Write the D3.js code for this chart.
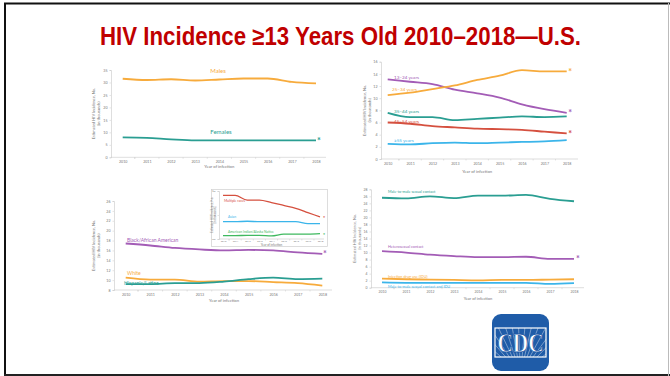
<!DOCTYPE html>
<html>
<head>
<meta charset="utf-8">
<script src="https://cdn.jsdelivr.net/npm/d3@7"></script>
<style>
  body { margin: 0; background: #fff; }
  svg { display: block; }
  text { font-family: Lato, "Open Sans", sans-serif; }
</style>
</head>
<body>
<div id="slide"></div>
<script>
// data (estimated HIV incidence, thousands)
var years = [2010, 2011, 2012, 2013, 2014, 2015, 2016, 2017, 2018];

var males   = [31.5, 31.0, 31.3, 30.8, 31.2, 31.6, 31.6, 30.2, 29.6];
var females = [8.0, 7.8, 7.2, 6.8, 6.8, 6.8, 6.8, 6.8, 6.8];

var age1324 = [13.1, 12.7, 12.3, 11.4, 10.8, 10.1, 9.0, 8.2, 7.6];
var age2534 = [10.5, 10.9, 11.5, 12.1, 13.0, 13.7, 14.6, 14.4, 14.4];
var age3544 = [7.6, 6.9, 6.9, 6.4, 6.6, 6.8, 7.0, 6.9, 7.0];
var age4554 = [6.0, 5.8, 5.4, 5.2, 5.0, 4.9, 4.8, 4.5, 4.2];
var age55   = [2.5, 2.4, 2.6, 2.7, 2.6, 2.7, 2.8, 2.9, 3.1];

var black    = [17.4, 17.0, 16.5, 16.2, 16.0, 16.1, 16.0, 15.6, 15.3];
var white    = [10.5, 10.1, 10.1, 9.7, 9.8, 9.8, 9.6, 9.4, 8.9];
var hispanic = [9.2, 9.2, 9.4, 9.4, 9.7, 10.2, 10.5, 10.2, 10.3];

var multiRace = [1.82, 1.82, 1.62, 1.62, 1.52, 1.40, 1.28, 1.10, 0.92];
var asian     = [0.72, 0.72, 0.74, 0.72, 0.72, 0.72, 0.72, 0.64, 0.64];
var aian      = [0.14, 0.14, 0.15, 0.15, 0.13, 0.20, 0.20, 0.20, 0.22];

var msm     = [25.6, 25.4, 26.0, 25.5, 26.2, 26.2, 26.4, 25.3, 24.6];
var hetero  = [10.4, 10.0, 9.4, 9.0, 8.7, 8.7, 8.8, 8.2, 8.2];
var idu     = [2.6, 2.4, 2.3, 2.2, 2.1, 2.2, 2.2, 2.3, 2.4];
var msmIdu  = [1.5, 1.4, 1.4, 1.4, 1.4, 1.4, 1.4, 1.1, 1.3];

var C = {
  orange: "#f7ab3c", teal: "#2a9e92", purple: "#a35cb6",
  red: "#d5503f", blue: "#3bb5ea", green: "#3fb95f"
};

var svg = d3.select("#slide").append("svg")
  .attr("width", 670).attr("height", 376);

// slide frame
svg.append("rect").attr("x", 0).attr("y", 0).attr("width", 670).attr("height", 376).attr("fill", "#fff");
svg.append("line").attr("x1", 4).attr("x2", 670).attr("y1", 3.5).attr("y2", 3.5).attr("stroke", "#111").attr("stroke-width", 2);
svg.append("line").attr("x1", 5).attr("x2", 5).attr("y1", 3).attr("y2", 376).attr("stroke", "#111").attr("stroke-width", 2);
svg.append("line").attr("x1", 4).attr("x2", 670).attr("y1", 375).attr("y2", 375).attr("stroke", "#222").attr("stroke-width", 2);
svg.append("line").attr("x1", 668.5).attr("x2", 668.5).attr("y1", 3).attr("y2", 376).attr("stroke", "#bbb").attr("stroke-width", 1);

svg.append("text")
  .attr("x", 100).attr("y", 44.5)
  .attr("textLength", 481).attr("lengthAdjust", "spacingAndGlyphs")
  .style("font-family", "'Liberation Sans Narrow', 'Liberation Sans', Arial, sans-serif")
  .style("font-weight", "bold").style("font-size", "25px")
  .attr("fill", "#c00000")
  .text("HIV Incidence \u226513 Years Old 2010\u20132018\u2014U.S.");

function panel(cfg) {
  var g = svg.append("g");
  var x = d3.scaleLinear().domain([2010, 2018]).range(cfg.xr);
  var y = d3.scaleLinear().domain(cfg.yd).range(cfg.yr);

  // y axis
  var ya = d3.axisLeft(y).tickValues(cfg.yticks).tickSize(1.5).tickPadding(2);
  var gy = g.append("g").attr("transform", "translate(" + cfg.ax + ",0)").call(ya);
  // x axis
  var xa = d3.axisBottom(x).tickValues(years).tickFormat(d3.format("d")).tickSize(0).tickPadding(cfg.xpad || 3);
  var gx = g.append("g").attr("transform", "translate(0," + cfg.yr[0] + ")").call(xa);
  gx.select(".domain").attr("d", "M" + cfg.ax + ",0H" + cfg.axEnd);
  var step = x(2011) - x(2010);
  gx.selectAll(".xt").data(d3.range(2010.5, 2018.5, 1).concat([2009.5 + (cfg.ax > x(2009.5) ? 1 : 0) - 0.0001]))
    .enter().append("line").attr("class", "xt")
    .attr("x1", function(d){ return x(d); }).attr("x2", function(d){ return x(d); })
    .attr("y1", 0).attr("y2", 1.5).attr("stroke", "#c8c8c8").attr("stroke-width", 0.5);

  [gx, gy].forEach(function(a){
    a.select(".domain").attr("stroke", "#c8c8c8").attr("stroke-width", 0.6);
    a.selectAll(".tick line").attr("stroke", "#c8c8c8").attr("stroke-width", 0.5);
    a.selectAll(".tick text").attr("fill", "#777").style("font-size", cfg.fs + "px").style("font-family", "Lato, sans-serif");
  });

  g.append("text").attr("x", (cfg.xr[0] + cfg.xr[1]) / 2).attr("y", cfg.yr[0] + cfg.xtY)
    .attr("text-anchor", "middle").attr("fill", "#777").style("font-size", (cfg.fs + 0.6) + "px")
    .text("Year of infection");

  var ty = (cfg.yr[0] + cfg.yr[1]) / 2;
  g.append("text").attr("transform", "translate(" + cfg.ytX + "," + ty + ") rotate(-90)")
    .attr("text-anchor", "middle").attr("fill", "#777").style("font-size", (cfg.fs + 0.4) + "px")
    .selectAll("tspan").data(["Estimated HIV Incidence, No.", "(in thousands)"])
    .enter().append("tspan").attr("x", 0).attr("dy", function(d, i){ return i ? (cfg.fs + 1.4) : 0; })
    .text(function(d){ return d; });

  var line = d3.line().x(function(d, i){ return x(years[i]); }).y(function(d){ return y(d); })
    .curve(d3.curveMonotoneX);

  cfg.series.forEach(function(s){
    g.append("path").datum(s.v).attr("d", line)
      .attr("fill", "none").attr("stroke", s.c).attr("stroke-width", cfg.sw || 1.8);
    g.append("text").attr("x", s.lx).attr("y", s.ly).attr("fill", s.c)
      .attr("text-anchor", s.anchor || "start")
      .style("font-size", (s.fs || cfg.lfs) + "px").text(s.name);
    if (s.star) {
      g.append("text").attr("x", x(2018) + cfg.starDx).attr("y", y(s.v[8]) + 3.5)
        .attr("fill", s.c).attr("text-anchor", "middle").style("font-size", (cfg.starFs || 9) + "px")
        .style("font-weight", "bold").text("*");
    }
  });
  return g;
}

// sex
panel({
  xr: [122.7, 316], yd: [0, 35], yr: [157.3, 70], yticks: d3.range(0, 36, 5),
  ax: 111, axEnd: 326, fs: 3.6, lfs: 6, xtY: 11, ytX: 95, starDx: 3,
  series: [
    { name: "Males", v: males, c: C.orange, lx: 218, ly: 73, anchor: "middle" },
    { name: "Females", v: females, c: C.teal, lx: 221, ly: 133.5, anchor: "middle", star: true }
  ]
});

// age
panel({
  xr: [387.7, 566.7], yd: [0, 16], yr: [159, 61.7], yticks: d3.range(0, 17, 2),
  ax: 381, axEnd: 578, fs: 3.6, lfs: 4.6, xtY: 13.5, ytX: 366, starDx: 3.5,
  series: [
    { name: "13\u201324 years", v: age1324, c: C.purple, lx: 394, ly: 78.5, star: true },
    { name: "25\u201334 years", v: age2534, c: C.orange, lx: 392, ly: 90.5, star: true },
    { name: "35\u201344 years", v: age3544, c: C.teal, lx: 394, ly: 112.5 },
    { name: "45\u201354 years", v: age4554, c: C.red, lx: 394, ly: 122.5, star: true },
    { name: "\u226555 years", v: age55, c: C.blue, lx: 394, ly: 142 }
  ]
});

// race / ethnicity
panel({
  xr: [125.7, 322.3], yd: [8, 26], yr: [290, 201], yticks: d3.range(8, 27, 2),
  ax: 114, axEnd: 332, fs: 3.6, lfs: 5, xtY: 12, ytX: 95, starDx: 2.5,
  series: [
    { name: "Black/African American", v: black, c: C.purple, lx: 127, ly: 241.5, star: true },
    { name: "White", v: white, c: C.orange, lx: 127, ly: 275 },
    { name: "Hispanic/Latino", v: hispanic, c: C.teal, lx: 124, ly: 284.5 }
  ]
});

// inset
svg.append("rect").attr("x", 211.5).attr("y", 189.5).attr("width", 116).attr("height", 57)
  .attr("fill", "#fff").attr("stroke", "#cfcfcf").attr("stroke-width", 0.7);
svg.append("text").attr("x", 212).attr("y", 193).attr("fill", "#777").style("font-size", "4px").text("*");
panel({
  xr: [223, 320], yd: [0, 2], yr: [239, 191], yticks: [0, 1, 2],
  ax: 219, axEnd: 324, fs: 2.4, lfs: 3.4, xtY: 7, ytX: 212.5, starDx: 4, starFs: 5, sw: 1.3, xpad: 1.5,
  series: [
    { name: "Multiple races", v: multiRace, c: C.red, lx: 224, ly: 202, star: true },
    { name: "Asian", v: asian, c: C.blue, lx: 228, ly: 218 },
    { name: "American Indian/Alaska Native", v: aian, c: C.green, lx: 228, ly: 233, star: true }
  ]
});

// transmission category
panel({
  xr: [382, 574], yd: [0, 28], yr: [287.7, 189.3], yticks: d3.range(0, 29, 2),
  ax: 371, axEnd: 584, fs: 3.4, lfs: 3.8, xtY: 12.5, ytX: 356, starDx: 4,
  series: [
    { name: "Male-to-male sexual contact", v: msm, c: C.teal, lx: 388, ly: 193 },
    { name: "Heterosexual contact", v: hetero, c: C.purple, lx: 388, ly: 248, star: true },
    { name: "Injection drug use (IDU)", v: idu, c: C.orange, lx: 388, ly: 277.5 },
    { name: "Male-to-male sexual contact and IDU", v: msmIdu, c: C.blue, lx: 388, ly: 287.5 }
  ]
});

// CDC logo
var logo = svg.append("g").attr("transform", "translate(492,314)");
logo.append("rect").attr("width", 57).attr("height", 57).attr("rx", 9).attr("fill", "#1f5ca8");
logo.append("clipPath").attr("id", "lc").append("rect").attr("x", 3).attr("y", 14).attr("width", 51).attr("height", 29);
var rays = logo.append("g").attr("clip-path", "url(#lc)");
d3.range(0, 22).forEach(function(i){
  var a = Math.PI * (0.04 + i * 0.043);
  rays.append("line").attr("x1", 28.5).attr("y1", 60)
    .attr("x2", 28.5 + 80 * Math.cos(a)).attr("y2", 60 - 80 * Math.sin(a))
    .attr("stroke", "#fff").attr("stroke-width", 0.5).attr("opacity", 0.8);
});
logo.append("rect").attr("x", 3).attr("y", 14).attr("width", 51).attr("height", 29)
  .attr("fill", "none").attr("stroke", "#fff").attr("stroke-width", 1.2);
logo.append("text").attr("x", 28.5).attr("y", 38).attr("text-anchor", "middle")
  .attr("textLength", 46).attr("lengthAdjust", "spacingAndGlyphs")
  .style("font-family", "'Liberation Serif', 'DejaVu Serif', serif").style("font-weight", "bold")
  .style("font-size", "27px").attr("fill", "#fff").attr("stroke", "#1f5ca8").attr("stroke-width", 0.8)
  .text("CDC");
</script>
</body>
</html>
